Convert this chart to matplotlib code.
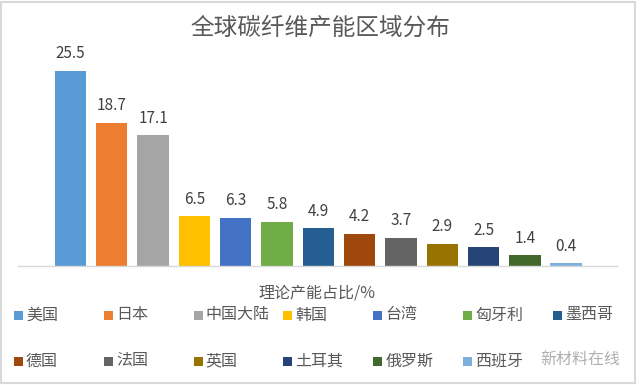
import matplotlib
matplotlib.use("Agg")
import matplotlib.pyplot as plt
from matplotlib.patches import Rectangle

plt.rcParams['font.family'] = ['Noto Sans CJK SC', 'DejaVu Sans']

########## Data
regions = ["美国", "日本", "中国大陆", "韩国", "台湾", "匈牙利", "墨西哥",
           "德国", "法国", "英国", "土耳其", "俄罗斯", "西班牙"]
shares = [25.5, 18.7, 17.1, 6.5, 6.3, 5.8, 4.9, 4.2, 3.7, 2.9, 2.5, 1.4, 0.4]
colors = ["#5B9BD5", "#ED7D31", "#A5A5A5", "#FFC000", "#4472C4", "#70AD47", "#255E91",
          "#9E480E", "#636363", "#997300", "#264478", "#43682B", "#7CAFDD"]
title = "全球碳纤维产能区域分布"
xlabel = "理论产能占比/%"
##############################################

W, H = 640, 385
fig = plt.figure(figsize=(W / 100, H / 100), dpi=100)

# axes placed in pixel terms
left, right, base, top = 18, 617, 266, 40
ax = fig.add_axes([left / W, (H - base) / H, (right - left) / W, (base - top) / H])

pos = range(len(regions))
ax.bar(pos, shares, width=0.76, color=colors, linewidth=0)
for i, v in enumerate(shares):
    ax.annotate(str(v), (i, v), xytext=(0, 6), textcoords="offset points",
                ha="center", va="bottom", fontsize=11, color="#404040")

ax.set_xlim(-1.27, 13.23)
ax.set_ylim(0, (base - top) / 7.66)
ax.set_xticks([])
ax.set_yticks([])
for s in ["top", "left", "right"]:
    ax.spines[s].set_visible(False)
ax.spines["bottom"].set_color("#D9D9D9")
ax.spines["bottom"].set_linewidth(1)

fig.text(320 / W, 1 - 28 / H, title, ha="center", va="center", fontsize=17, color="#595959")
fig.text(317 / W, 1 - 293 / H, xlabel, ha="center", va="center", fontsize=11.5, color="#595959")

# legend, Excel style fixed columns
for i, name in enumerate(regions):
    col, row = i % 7, i // 7
    x = 14 + col * 89.8
    y = 315 + row * 46
    fig.patches.append(Rectangle((x / W, 1 - (y + 4.5) / H), 9 / W, 9 / H,
                                 transform=fig.transFigure, color=colors[i], lw=0))
    fig.text((x + 12) / W, 1 - y / H, name, ha="left", va="center", fontsize=11.5, color="#595959")

# watermark
fig.text(580 / W, 1 - 359 / H, "新材料在线", ha="center", va="center", fontsize=11.5,
         color="#9A9A9A", alpha=0.8)

# chart border
fig.patches.append(Rectangle((1 / W, 2 / H), 634 / W, 381 / H, transform=fig.transFigure,
                             fill=False, edgecolor="#D9D9D9", lw=1.5))

fig.savefig("out.png", dpi=100)
